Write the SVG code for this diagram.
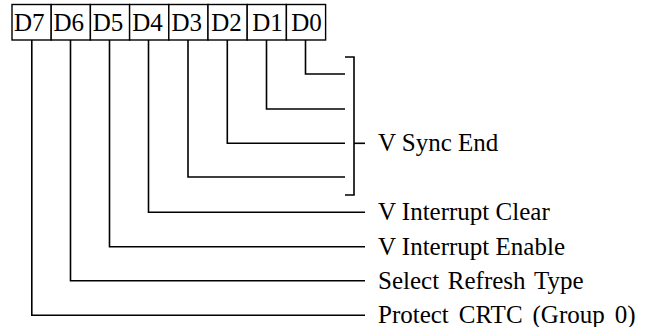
<svg xmlns="http://www.w3.org/2000/svg" width="646" height="327" viewBox="0 0 646 327">
<style>
.box{fill:#fff;stroke:#000;stroke-width:1.4}
.bt{font-family:"Liberation Serif","Times New Roman",serif;font-size:25px;fill:#000;text-anchor:middle}
.lb{font-family:"Liberation Serif","Times New Roman",serif;font-size:25px;fill:#000}
.ln{fill:none;stroke:#000;stroke-width:1.6}
</style>
<rect width="646" height="327" fill="#fff"/>
<g id="register">
<g id="D7"><rect class="box" x="12" y="4.5" width="39.2" height="35.5"/><text class="bt" x="29.3" y="31">D7</text></g>
<g id="D6"><rect class="box" x="51.2" y="4.5" width="39.2" height="35.5"/><text class="bt" x="68.8" y="31">D6</text></g>
<g id="D5"><rect class="box" x="90.4" y="4.5" width="39.2" height="35.5"/><text class="bt" x="108" y="31">D5</text></g>
<g id="D4"><rect class="box" x="129.6" y="4.5" width="39.2" height="35.5"/><text class="bt" x="147.5" y="31">D4</text></g>
<g id="D3"><rect class="box" x="168.8" y="4.5" width="39.2" height="35.5"/><text class="bt" x="186.8" y="31">D3</text></g>
<g id="D2"><rect class="box" x="208" y="4.5" width="39.2" height="35.5"/><text class="bt" x="226.5" y="31">D2</text></g>
<g id="D1"><rect class="box" x="247.2" y="4.5" width="39.2" height="35.5"/><text class="bt" x="267.5" y="31">D1</text></g>
<g id="D0"><rect class="box" x="286.4" y="4.5" width="39.2" height="35.5"/><text class="bt" x="306.5" y="31">D0</text></g>
</g>
<g id="connectors">
<path class="ln" d="M305.5 40V74H345"/>
<path class="ln" d="M266.5 40V109H345"/>
<path class="ln" d="M227.3 40V143.3H345"/>
<path class="ln" d="M188 40V177H345"/>
<path class="ln" d="M345 57H354V195H345"/>
<path class="ln" d="M354 143.3H365"/>
<path class="ln" d="M148.5 40V212.3H365"/>
<path class="ln" d="M109.5 40V246.7H365"/>
<path class="ln" d="M70.5 40V280.7H365"/>
<path class="ln" d="M31.8 40V315.3H365"/>
</g>
<g id="labels">
<text class="lb" x="378" y="151">V Sync End</text>
<text class="lb" x="378" y="220">V Interrupt Clear</text>
<text class="lb" x="378" y="254.5">V Interrupt Enable</text>
<text class="lb" x="378" y="288.5" word-spacing="2.5">Select Refresh Type</text>
<text class="lb" x="378" y="322.5" word-spacing="3.7">Protect CRTC (Group 0)</text>
</g>
</svg>
